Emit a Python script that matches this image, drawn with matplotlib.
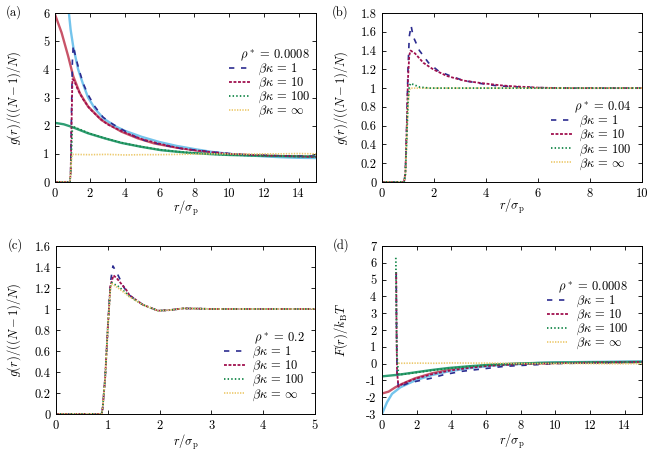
import matplotlib
matplotlib.use('Agg')
import matplotlib.pyplot as plt
from matplotlib.ticker import FuncFormatter, MultipleLocator

plt.rcParams['font.family'] = 'serif'
plt.rcParams['font.serif'] = ['cmr10', 'DejaVu Serif']
plt.rcParams['mathtext.fontset'] = 'cm'
plt.rcParams['axes.formatter.use_mathtext'] = True
plt.rcParams['font.size'] = 9

# ---- panel (a): g(r), rho* = 0.0008 ----
# theory curves
a_blue_r = [0.75, 0.8, 0.9, 1.05, 1.33, 1.6, 1.9, 2.3, 2.8, 3.5, 4, 5, 6, 7, 8, 9, 10, 11, 12, 13, 14, 15]
a_blue_g = [6.3, 6.0, 5.4, 4.8, 4.0, 3.5, 3.0, 2.6, 2.25, 1.97, 1.82, 1.6, 1.42, 1.28, 1.17, 1.07, 1.0, 0.95, 0.91, 0.88, 0.86, 0.85]
a_red_r = [0, 0.38, 0.76, 1.05, 1.43, 1.9, 2.67, 3.81, 4.76, 5.7, 7, 8, 9, 10, 12, 15]
a_red_g = [5.95, 5.3, 4.46, 3.75, 3.15, 2.68, 2.2, 1.79, 1.55, 1.37, 1.22, 1.13, 1.05, 0.99, 0.93, 0.88]
a_green_r = [0, 0.5, 0.95, 1.9, 2.86, 3.8, 4.95, 6.1, 7.6, 8.95, 10, 12, 15]
a_green_g = [2.1, 2.05, 1.96, 1.73, 1.55, 1.39, 1.25, 1.13, 1.04, 0.99, 0.96, 0.93, 0.9]
# simulation data
a_k1_r = [0, 0.85, 0.9, 0.95, 1.0, 1.05, 1.2, 1.4, 1.62, 1.9, 2.29, 2.76, 3.33, 3.9, 4.57, 5.14, 5.9, 6.57, 7.4, 8.2, 8.95, 10, 11, 12, 13, 14, 15]
a_k1_g = [0, 0, 0.3, 2.5, 4.3, 4.85, 4.4, 3.95, 3.5, 3.1, 2.68, 2.3, 2.05, 1.85, 1.62, 1.48, 1.36, 1.27, 1.17, 1.13, 1.07, 1.01, 0.97, 0.95, 0.93, 0.92, 0.92]
a_k10_r = [0, 0.85, 0.9, 0.95, 1.0, 1.1, 1.3, 1.6, 2, 2.5, 3, 4, 5, 6, 7, 8, 9, 10, 12, 15]
a_k10_g = [0, 0, 0.3, 2.0, 3.65, 3.6, 3.3, 2.95, 2.6, 2.3, 2.05, 1.76, 1.52, 1.36, 1.22, 1.13, 1.06, 1.0, 0.94, 0.89]
a_k100_r = [0, 0.85, 0.9, 0.95, 1.0, 1.3, 2, 3, 4, 5, 6, 7, 8, 9, 10, 12, 15]
a_k100_g = [0, 0, 0.3, 1.2, 1.98, 1.9, 1.72, 1.53, 1.37, 1.25, 1.15, 1.08, 1.03, 0.99, 0.96, 0.93, 0.9]
a_kinf_r = [0, 0.85, 0.9, 0.95, 1.0, 2, 3, 4, 5, 6, 7, 8, 9, 10, 11, 12, 13, 14, 15]
a_kinf_g = [0, 0, 0.3, 0.8, 0.98, 0.97, 0.98, 0.96, 0.97, 0.97, 0.98, 0.99, 1.0, 1.0, 0.99, 1.0, 1.0, 1.01, 1.0]

# ---- panel (b): g(r), rho* = 0.04 ----
b_k1_r = [0, 0.85, 0.9, 0.95, 1.0, 1.05, 1.12, 1.2, 1.44, 1.79, 2.18, 2.63, 3.14, 3.78, 4.42, 5, 6, 7, 8, 9, 10]
b_k1_g = [0, 0, 0.1, 0.6, 1.2, 1.55, 1.665, 1.55, 1.4, 1.27, 1.18, 1.13, 1.08, 1.05, 1.025, 1.015, 1.005, 1.0, 1.0, 1.0, 1.0]
b_k10_r = [0, 0.85, 0.9, 0.95, 1.0, 1.05, 1.1, 1.27, 1.59, 1.97, 2.49, 3.14, 3.78, 4.55, 5, 6, 7, 8, 9, 10]
b_k10_g = [0, 0, 0.1, 0.55, 1.1, 1.35, 1.4, 1.37, 1.27, 1.2, 1.13, 1.08, 1.055, 1.03, 1.02, 1.005, 1.0, 1.0, 1.0, 1.0]
b_k100_r = [0, 0.85, 0.9, 0.95, 1.0, 1.05, 1.1, 1.46, 1.85, 2.5, 4, 6, 8, 10]
b_k100_g = [0, 0, 0.08, 0.45, 0.85, 1.02, 1.05, 1.01, 1.0, 1.0, 1.0, 1.0, 1.0, 1.0]
b_kinf_r = [0, 0.85, 0.9, 0.95, 1.0, 1.05, 1.1, 1.5, 2, 4, 6, 8, 10]
b_kinf_g = [0, 0, 0.08, 0.45, 0.83, 0.98, 1.0, 1.0, 1.0, 1.0, 1.0, 1.0, 1.0]

# ---- panel (c): g(r), rho* = 0.2 ----
c_k1_r = [0, 0.88, 0.9, 0.95, 1.0, 1.05, 1.1, 1.19, 1.32, 1.42, 1.68, 1.97, 2.2, 2.46, 2.8, 3, 3.5, 4, 4.5, 5]
c_k1_g = [0, 0, 0.05, 0.35, 0.82, 1.25, 1.41, 1.33, 1.2, 1.13, 1.04, 0.984, 0.99, 1.006, 1.003, 1.0, 1.0, 1.0, 1.0, 1.0]
c_k10_r = [0, 0.88, 0.9, 0.95, 1.0, 1.05, 1.11, 1.17, 1.36, 1.42, 1.68, 1.97, 2.2, 2.46, 2.8, 3, 3.5, 4, 4.5, 5]
c_k10_g = [0, 0, 0.05, 0.35, 0.82, 1.22, 1.32, 1.295, 1.18, 1.13, 1.04, 0.984, 0.99, 1.006, 1.003, 1.0, 1.0, 1.0, 1.0, 1.0]
c_k100_r = [0, 0.88, 0.9, 0.95, 1.0, 1.05, 1.075, 1.2, 1.36, 1.42, 1.68, 1.97, 2.2, 2.46, 2.8, 3, 3.5, 4, 4.5, 5]
c_k100_g = [0, 0, 0.05, 0.35, 0.82, 1.2, 1.25, 1.216, 1.15, 1.12, 1.04, 0.984, 0.99, 1.006, 1.003, 1.0, 1.0, 1.0, 1.0, 1.0]
c_kinf_r = [0, 0.88, 0.9, 0.95, 1.0, 1.05, 1.08, 1.2, 1.36, 1.42, 1.68, 1.97, 2.2, 2.46, 2.8, 3, 3.5, 4, 4.5, 5]
c_kinf_g = [0, 0, 0.05, 0.35, 0.82, 1.19, 1.24, 1.2, 1.14, 1.115, 1.04, 0.984, 0.99, 1.006, 1.003, 1.0, 1.0, 1.0, 1.0, 1.0]

# ---- panel (d): F(r)/kT, rho* = 0.0008 ----
d_blue_r = [0, 0.29, 0.58, 1.06, 1.92, 2.88, 3.85, 5.0, 6.35, 7.7, 9.0, 10, 12, 15]
d_blue_f = [-3.0, -2.3, -1.8, -1.41, -1.0, -0.68, -0.46, -0.28, -0.12, -0.04, 0.04, 0.07, 0.1, 0.13]
d_red_r = [0, 0.38, 0.77, 1.15, 1.92, 2.88, 3.85, 5.0, 6.35, 8, 10, 12, 15]
d_red_f = [-1.78, -1.67, -1.41, -1.21, -0.87, -0.58, -0.38, -0.22, -0.08, 0.0, 0.04, 0.07, 0.1]
d_green_r = [0, 0.96, 1.92, 2.88, 3.85, 5.0, 6.35, 7.7, 9.0, 10, 12, 15]
d_green_f = [-0.76, -0.66, -0.52, -0.38, -0.26, -0.16, -0.06, 0.0, 0.04, 0.06, 0.08, 0.1]
d_k1_r = [0.82, 0.84, 0.87, 0.95, 1.0, 1.2, 1.5, 2, 2.88, 3.56, 4.6, 5.77, 7, 8, 9, 10, 11, 12, 13, 14, 15]
d_k1_f = [5.35, 2.0, -0.5, -1.45, -1.42, -1.3, -1.17, -1.05, -0.86, -0.66, -0.46, -0.32, -0.17, -0.11, -0.06, 0.0, 0.02, 0.04, 0.05, 0.07, 0.08]
d_k10_r = [0.82, 0.84, 0.87, 0.95, 1.0, 1.2, 1.5, 2, 3, 4, 5, 6, 7, 8, 10, 12, 15]
d_k10_f = [5.45, 2.0, -0.5, -1.38, -1.33, -1.2, -1.07, -0.88, -0.6, -0.4, -0.26, -0.15, -0.08, -0.03, 0.02, 0.06, 0.1]
d_k100_r = [0.8, 0.83, 0.86, 0.95, 1.0, 1.5, 2, 3, 4, 5, 6, 7, 8, 10, 12, 15]
d_k100_f = [6.3, 3.0, 0.5, -0.6, -0.66, -0.6, -0.53, -0.39, -0.27, -0.18, -0.1, -0.05, -0.01, 0.04, 0.07, 0.1]
d_kinf_r = [0.95, 1.0, 2, 3, 4, 5, 6, 7, 8, 9, 10, 11, 12, 13, 14, 15]
d_kinf_f = [0.02, 0.02, 0.03, 0.02, 0.04, 0.03, 0.03, 0.02, 0.01, 0.0, 0.0, 0.01, 0.0, -0.01, -0.01, 0.0]

labels = [r'$\beta\kappa \,=\, 1$', r'$\beta\kappa \,=\, 10$', r'$\beta\kappa \,=\, 100$', r'$\beta\kappa \,=\, \infty$']

# styles: colour, dash pattern, linewidth
STY = [
    dict(color='#2c2c90', dashes=(3.2, 4.0), lw=1.2),
    dict(color='#a0104e', dashes=(1.6, 0.9), lw=1.3),
    dict(color='#16884a', dashes=(0.8, 1.2), lw=1.3),
    dict(color='#ecc86a', dashes=(0.8, 0.8), lw=1.2),
]
C_RED = '#c85468'
C_BLUE = '#74c4ec'
C_GREEN = '#2f9e74'
THEORY_LW = 1.7

fig = plt.figure(figsize=(6.57, 4.55), dpi=100)
ax_a = fig.add_axes([0.0837, 0.600, 0.3973, 0.3714])
ax_b = fig.add_axes([0.5814, 0.600, 0.3957, 0.3714])
ax_c = fig.add_axes([0.0852, 0.0901, 0.3942, 0.3692])
ax_d = fig.add_axes([0.5814, 0.0901, 0.3957, 0.3692])

fmt = FuncFormatter(lambda v, p: '%g' % round(v, 6))


def style_axis(ax, xmax, xstep, ymin, ymax, ystep, ylabel, ylab_x, xlab_y):
    ax.set_xlim(0, xmax)
    ax.set_ylim(ymin, ymax)
    ax.xaxis.set_major_locator(MultipleLocator(xstep))
    ax.yaxis.set_major_locator(MultipleLocator(ystep))
    ax.xaxis.set_major_formatter(fmt)
    ax.yaxis.set_major_formatter(fmt)
    ax.tick_params(direction='in', top=True, right=True, length=3, width=0.6,
                   labelsize=9, pad=4)
    for s in ax.spines.values():
        s.set_linewidth(0.7)
    ax.set_ylabel(ylabel, fontsize=9)
    ax.set_xlabel(r'$r/\sigma_{\rm p}$', fontsize=9)
    ax.yaxis.set_label_coords(ylab_x, 0.5)
    ax.xaxis.set_label_coords(0.5, xlab_y)


def data_lines(ax, series):
    handles = []
    for (r, v), st in zip(series, STY):
        h, = ax.plot(r, v, color=st['color'], lw=st['lw'], dashes=st['dashes'])
        handles.append(h)
    return handles


def add_legend(ax, handles, title, x, y):
    leg = ax.legend(handles, labels, title=title, loc='upper right',
                    bbox_to_anchor=(x, y), frameon=False, fontsize=9,
                    title_fontsize=9, handlelength=1.7, handletextpad=0.6,
                    labelspacing=-0.1, borderpad=0, borderaxespad=0,
                    alignment='right')
    return leg


gl = r'$g(r)/((N-1)/N)$'

# (a)
ax_a.plot(a_red_r, a_red_g, color=C_RED, lw=THEORY_LW)
ax_a.plot(a_blue_r, a_blue_g, color=C_BLUE, lw=THEORY_LW)
ax_a.plot(a_green_r, a_green_g, color=C_GREEN, lw=THEORY_LW)
h = data_lines(ax_a, [(a_k1_r, a_k1_g), (a_k10_r, a_k10_g), (a_k100_r, a_k100_g), (a_kinf_r, a_kinf_g)])
style_axis(ax_a, 15, 2, 0, 6, 1, gl, -0.123, -0.10)
add_legend(ax_a, h, r'$\rho^* \,=\, 0.0008$', 0.977, 0.795)

# (b)
hb = []
hb.append(ax_b.plot(b_k1_r, b_k1_g, color=STY[0]['color'], lw=STY[0]['lw'], dashes=STY[0]['dashes'])[0])
hb.append(ax_b.plot(b_k10_r, b_k10_g, color=STY[1]['color'], lw=STY[1]['lw'], dashes=STY[1]['dashes'])[0])
h_inf = ax_b.plot(b_kinf_r, b_kinf_g, color=STY[3]['color'], lw=STY[3]['lw'], dashes=STY[3]['dashes'])[0]
hb.append(ax_b.plot(b_k100_r, b_k100_g, color=STY[2]['color'], lw=STY[2]['lw'], dashes=STY[2]['dashes'])[0])
hb.append(h_inf)
style_axis(ax_b, 10, 2, 0, 1.8, 0.2, gl, -0.123, -0.089)
add_legend(ax_b, hb, r'$\rho^* \,=\, 0.04$', 0.96, 0.486)

# (c)
h = data_lines(ax_c, [(c_k1_r, c_k1_g), (c_k10_r, c_k10_g), (c_k100_r, c_k100_g), (c_kinf_r, c_kinf_g)])
style_axis(ax_c, 5, 1, 0, 1.6, 0.2, gl, -0.127, -0.113)
add_legend(ax_c, h, r'$\rho^* \,=\, 0.2$', 0.96, 0.496)

# (d)
ax_d.plot(d_red_r, d_red_f, color=C_RED, lw=THEORY_LW)
ax_d.plot(d_blue_r, d_blue_f, color=C_BLUE, lw=THEORY_LW)
ax_d.plot(d_green_r, d_green_f, color=C_GREEN, lw=THEORY_LW)
h = data_lines(ax_d, [(d_k1_r, d_k1_f), (d_k10_r, d_k10_f), (d_k100_r, d_k100_f), (d_kinf_r, d_kinf_f)])
style_axis(ax_d, 15, 2, -3, 7, 1, r'$F(r)/k_{\rm B}T$', -0.123, -0.107)
add_legend(ax_d, h, r'$\rho^* \,=\, 0.0008$', 0.946, 0.80)

for txt, x, y in [('(a)', 6, 12), ('(b)', 332, 12), ('(c)', 8, 245), ('(d)', 333, 245)]:
    fig.text(x / 657, 1 - y / 455, txt, fontsize=9, va='center', ha='left')

fig.savefig('out.png', dpi=100)
